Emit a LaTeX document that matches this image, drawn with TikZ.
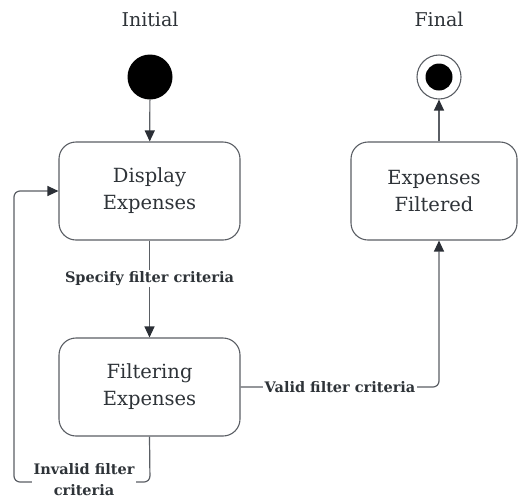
\documentclass[tikz,border=0pt]{standalone}
\usepackage{fontspec}
\setmainfont{DejaVu Serif}
\usetikzlibrary{arrows.meta}
\definecolor{linec}{HTML}{5A5E64}
\definecolor{tipc}{HTML}{2B2F36}
\definecolor{txt}{HTML}{2E3338}
\begin{document}
\begin{tikzpicture}[x=1pt,y=-1pt,
  statebox/.style={draw=linec, line width=1.1pt, rounded corners=17pt, minimum width=181pt, minimum height=98pt, align=center, font=\fontsize{19.5}{27}\selectfont, text=txt, inner sep=0pt},
  conn/.style={draw=linec, line width=1.2pt, -{Triangle[length=11pt,width=10pt,fill=tipc,color=tipc]}},
  lbl/.style={font=\bfseries\fontsize{14.5}{21}\selectfont, fill=white, text=txt, inner sep=1.5pt, align=center},
  title/.style={font=\fontsize{19}{22}\selectfont, text=txt}]
\useasboundingbox (0,0) rectangle (518,499);
\node[title] (tinit) at (150,19) {Initial};
\node[title] (tfin) at (439,19) {Final};
\node[circle, fill=black, minimum size=45pt, inner sep=0pt] (init) at (150,77) {};
\node[circle, draw=linec, line width=1.1pt, minimum size=44pt, inner sep=0pt] (fin) at (439,77) {};
\node[circle, fill=black, minimum size=27pt, inner sep=0pt] (finin) at (439,77) {};
\node[statebox] (disp) at (149.5,191) {Display\\Expenses};
\node[statebox] (filt) at (149.5,387) {Filtering\\Expenses};
\node[statebox, minimum width=166pt] (done) at (434,191) {Expenses\\Filtered};
\draw[conn] (init) -- (disp);
\draw[conn] (disp) -- (filt) node[lbl, pos=0.39] (lspec) {Specify filter criteria};
\draw[conn] (done.north -| fin) -- (fin);
\draw[conn, rounded corners=6pt] (filt.south) -- (150,482) coordinate (c1) -- (14,482) coordinate (c2) -- (14,191) coordinate (c3) -- (disp.west);
\node[lbl] (linv) at (84,480) {Invalid filter\\criteria};
\draw[conn, rounded corners=6pt] (filt.east) -- (439,387) coordinate (c4) -- (done.south -| fin);
\node[lbl] (lval) at (340,387) {Valid filter criteria};
\end{tikzpicture}
\end{document}
